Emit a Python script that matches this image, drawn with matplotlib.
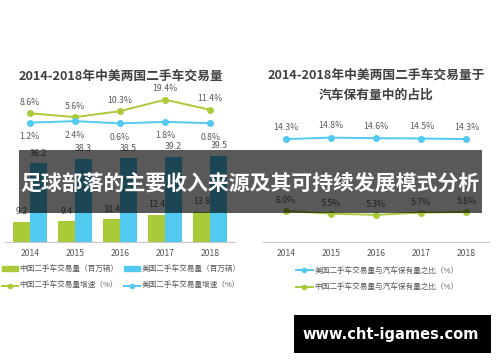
import matplotlib
matplotlib.use("Agg")
import matplotlib.pyplot as plt
from matplotlib.patches import Rectangle, Patch
from matplotlib.lines import Line2D

plt.rcParams['font.family'] = ['Noto Sans CJK SC', 'DejaVu Sans']

years = ['2014', '2015', '2016', '2017', '2018']
cn_volume = [9.2, 9.4, 10.4, 12.4, 13.8]
us_volume = [36.2, 38.3, 38.5, 39.2, 39.5]
cn_growth = [8.6, 5.6, 10.3, 19.4, 11.4]
us_growth = [1.2, 2.4, 0.6, 1.8, 0.8]
us_ratio = [14.3, 14.8, 14.6, 14.5, 14.3]
cn_ratio = [6.0, 5.5, 5.3, 5.7, 5.8]

title_left = '2014-2018年中美两国二手车交易量'
title_right = '2014-2018年中美两国二手车交易量于\n汽车保有量中的占比'
banner = '足球部落的主要收入来源及其可持续发展模式分析'
watermark = 'www.cht-igames.com'

GREEN = '#a9cb3a'
BLUE = '#52c9f1'
TXT = '#595959'
AXC = '#c8c8c8'

W, H = 500, 362
fig = plt.figure(figsize=(W / 100, H / 100), dpi=100)

def px_axes(x0, x1, ytop, ybot):
    return [x0 / W, 1 - ybot / H, (x1 - x0) / W, (ybot - ytop) / H]

x = list(range(len(years)))

# ---------------- left chart ----------------
ax = fig.add_axes(px_axes(5, 235, 90, 241.7))
bw = 0.378
xg = [i - bw / 2 for i in x]
xb = [i + bw / 2 for i in x]
ax.bar(xg, cn_volume, width=bw, color=GREEN, zorder=2)
ax.bar(xb, us_volume, width=bw, color=BLUE, zorder=2)
ax.set_xlim(-0.55, 4.55)
ax.set_ylim(0, 151.7 / 2.17)
for xi, v in zip(xg, cn_volume):
    ax.annotate(f'{v}', (xi, v), xytext=(0, 10), textcoords='offset pixels',
                ha='center', va='center', fontsize=6.3, color=TXT)
for xi, v in zip(xb, us_volume):
    ax.annotate(f'{v}', (xi, v), xytext=(0, 10), textcoords='offset pixels',
                ha='center', va='center', fontsize=6.3, color=TXT)
for s in ['top', 'right', 'left']:
    ax.spines[s].set_visible(False)
ax.spines['bottom'].set_color(AXC)
ax.spines['bottom'].set_linewidth(0.8)
ax.set_yticks([])
ax.set_xticks(x)
ax.set_xticklabels(years, fontsize=6.2, color=TXT)
ax.tick_params(axis='x', length=0, pad=5)

ax2 = ax.twinx()
ax2.set_ylim(-93.3, 27.1)
ax2.plot(x, cn_growth, color=GREEN, lw=1.4, marker='o', ms=4, zorder=3)
ax2.plot(x, us_growth, color=BLUE, lw=1.4, marker='o', ms=4, zorder=3)
for xi, v in zip(x, cn_growth):
    ax2.annotate(f'{v}%', (xi, v), xytext=(0, 11), textcoords='offset pixels',
                 ha='center', va='center', fontsize=6.3, color=TXT)
for xi, v in zip(x, us_growth):
    ax2.annotate(f'{v}%', (xi, v), xytext=(0, -14), textcoords='offset pixels',
                 ha='center', va='center', fontsize=6.3, color=TXT)
ax2.axis('off')

fig.text(121 / W, 1 - 76 / H, title_left, ha='center', va='center',
         fontsize=9.2, fontweight='bold', color='#404040')

handles_l = [Patch(color=GREEN), Line2D([], [], color=GREEN, lw=1.4, marker='o', ms=3),
             Patch(color=BLUE), Line2D([], [], color=BLUE, lw=1.4, marker='o', ms=3)]
labels_l = ['中国二手车交易量（百万辆）', '中国二手车交易量增速（%）',
            '美国二手车交易量（百万辆）', '美国二手车交易量增速（%）']
fig.legend(handles_l, labels_l, ncol=2, loc='upper left',
           bbox_to_anchor=(2 / W, 1 - 265 / H), frameon=False, fontsize=5.5,
           labelcolor=TXT, handlelength=2.1, handleheight=0.7, handletextpad=0.2,
           columnspacing=0.7, labelspacing=1.2, borderaxespad=0, borderpad=0)

# ---------------- right chart ----------------
axr = fig.add_axes(px_axes(263, 489, 90, 241.7))
axr.set_xlim(-0.51, 4.5)
axr.set_ylim(14.5 - 103.2 / 3, 14.5 + 48.5 / 3)
axr.plot(x, us_ratio, color=BLUE, lw=1.4, marker='o', ms=4, zorder=3)
for xi, v in zip(x, us_ratio):
    axr.annotate(f'{v}%', (xi, v), xytext=(0, 12), textcoords='offset pixels',
                 ha='center', va='center', fontsize=6.3, color=TXT)
for s in ['top', 'right', 'left']:
    axr.spines[s].set_visible(False)
axr.spines['bottom'].set_color(AXC)
axr.spines['bottom'].set_linewidth(0.8)
axr.set_yticks([])
axr.set_xticks(x)
axr.set_xticklabels(years, fontsize=6.2, color=TXT)
axr.tick_params(axis='x', length=0, pad=5)

axr2 = axr.twinx()
axr2.set_ylim(5.8 - 29.7 / 5.7, 5.8 + 122 / 5.7)
axr2.plot(x, cn_ratio, color=GREEN, lw=1.4, marker='o', ms=4, zorder=3)
for xi, v in zip(x, cn_ratio):
    axr2.annotate(f'{v}%', (xi, v), xytext=(0, 10), textcoords='offset pixels',
                  ha='center', va='center', fontsize=6.3, color=TXT)
axr2.axis('off')

fig.text(376 / W, 1 - 85.5 / H, title_right, ha='center', va='center',
         fontsize=9.2, fontweight='bold', color='#404040', linespacing=1.7)

handles_r = [Line2D([], [], color=BLUE, lw=1.4, marker='o', ms=3),
             Line2D([], [], color=GREEN, lw=1.4, marker='o', ms=3)]
labels_r = ['美国二手车交易量与汽车保有量之比（%）', '中国二手车交易量与汽车保有量之比（%）']
fig.legend(handles_r, labels_r, ncol=1, loc='upper left',
           bbox_to_anchor=(296 / W, 1 - 267 / H), frameon=False, fontsize=5.5,
           labelcolor=TXT, handlelength=2.2, handletextpad=0.2,
           labelspacing=1.1, borderaxespad=0, borderpad=0)

# ---------------- overlays ----------------
fig.patches.append(Rectangle((19 / W, 1 - 212.7 / H), (481.7 - 19) / W, (212.7 - 150) / H,
                             transform=fig.transFigure, facecolor='black', alpha=0.65,
                             edgecolor='none', zorder=10))
fig.text(250 / W, 1 - 183 / H, banner, ha='center', va='center', fontsize=15,
         fontweight='bold', color='white', zorder=11)

fig.patches.append(Rectangle((294 / W, 1 - 353 / H), (491 - 294) / W, (353 - 315) / H,
                             transform=fig.transFigure, facecolor='black',
                             edgecolor='none', zorder=10))
fig.text(391 / W, 1 - 334 / H, watermark, ha='center', va='center', fontsize=10.5,
         fontweight='bold', color='white', family='DejaVu Sans', zorder=11)

fig.savefig('out.png', dpi=100)
